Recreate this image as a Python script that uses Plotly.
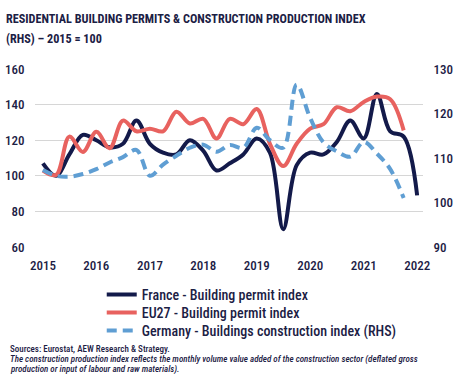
import pandas as pd
import plotly.graph_objects as go

quarters = pd.date_range("2015-01-01", periods=29, freq="QS")

france = [107, 100, 112, 123, 120, 116, 118, 131, 118, 113, 112, 120, 114, 103, 107, 112,
          121, 113, 70, 106, 113, 112, 119, 131, 121, 146, 125, 122, 89]
eu27 = [103, 100.5, 122, 113.4, 124.7, 115.5, 131, 125, 126.5, 125, 136, 129.4, 132, 121, 132, 129,
        137.5, 118, 105.5, 118, 126.5, 129, 138.5, 136.3, 141.5, 144.5, 143, 125.5]
germany = [107.3, 106, 105.8, 106.4, 107.5, 109, 110.2, 111.8, 106, 108.5, 110.5, 112.3, 113, 111.4,
           112.9, 112.3, 116.8, 114, 112.3, 126.5, 119, 113.5, 111.5, 110.3, 113.6, 111, 107.5, 101]

year_ticks = [2015, 2016, 2017, 2018, 2019, 2020, 2021, 2022]
left_ticks = [60, 80, 100, 120, 140, 160]
right_ticks = [90, 100, 110, 120, 130]

NAVY = "#131a4a"
RED = "#e8625f"
BLUE = "#5f9ed3"
TXT = "#1b2044"
FONT = "Roboto Condensed, DejaVu Sans Condensed, sans-serif"

fig = go.Figure()
fig.add_trace(go.Scatter(x=quarters[:len(france)], y=france, name="France - Building permit index",
                         mode="lines", legend="legend",
                         line=dict(color=NAVY, width=4, shape="spline", smoothing=1)))
fig.add_trace(go.Scatter(x=quarters[:len(eu27)], y=eu27, name="EU27 - Building permit index",
                         mode="lines", legend="legend2",
                         line=dict(color=RED, width=4, shape="spline", smoothing=1)))
fig.add_trace(go.Scatter(x=quarters[:len(germany)], y=germany, name="Germany - Buildings construction index (RHS)",
                         mode="lines", yaxis="y2", legend="legend3",
                         line=dict(color=BLUE, width=4, shape="spline", smoothing=1, dash="10px,6px")))

leg_common = dict(x=0.172, xanchor="left", yanchor="middle",
                  font=dict(size=14, color=TXT, family=FONT, weight=500),
                  itemwidth=30, bgcolor="rgba(0,0,0,0)")
plot_h = 390 - 69 - 143
tickfont = dict(size=13, color=TXT, family=FONT, weight=500)
fig.update_layout(
    width=462, height=390,
    margin=dict(l=35, r=39, t=69, b=143, autoexpand=False),
    paper_bgcolor="white", plot_bgcolor="white",
    font=dict(family=FONT, color=TXT, size=13),
    showlegend=True,
    legend=dict(y=-(295 - 247) / plot_h, **leg_common),
    legend2=dict(y=-(313 - 247) / plot_h, **leg_common),
    legend3=dict(y=-(331 - 247) / plot_h, **leg_common),
    xaxis=dict(type="date", range=["2014-11-08", "2022-02-10"],
               tickvals=[f"{y}-01-01" for y in year_ticks], ticktext=[str(y) for y in year_ticks],
               showgrid=False, zeroline=False, showline=False,
               ticks="outside", ticklen=6, tickcolor="rgba(0,0,0,0)", tickfont=tickfont),
    yaxis=dict(range=[60, 160], tickvals=left_ticks, showgrid=True, gridcolor="#d6d6d6", gridwidth=1,
               zeroline=False, showline=False, ticks="outside", ticklen=7, tickcolor="rgba(0,0,0,0)",
               tickfont=tickfont),
    yaxis2=dict(range=[90, 130], tickvals=right_ticks, overlaying="y", side="right", showgrid=False,
                zeroline=False, showline=False, ticks="outside", ticklen=7, tickcolor="rgba(0,0,0,0)",
                tickfont=tickfont),
)

title_lines = ["RESIDENTIAL BUILDING PERMITS & CONSTRUCTION PRODUCTION INDEX", "(RHS) – 2015 = 100"]
for i, t in enumerate(title_lines):
    fig.add_annotation(xref="paper", yref="paper", x=-0.079, y=1.0, xanchor="left", yanchor="middle",
                       yshift=50 - 20 * i, align="left", showarrow=False, text=f"<b>{t}</b>",
                       font=dict(size=12.2, color=TXT, family=FONT))

source_lines = ["Sources: Eurostat, AEW Research & Strategy.",
                "<i>The construction production index reflects the monthly volume value added of the construction sector (deflated gross</i>",
                "<i>production or input of labour and raw materials).</i>"]
for i, t in enumerate(source_lines):
    fig.add_annotation(xref="paper", yref="paper", x=-0.069, y=0.0, xanchor="left", yanchor="middle",
                       yshift=-102 - 10 * i, align="left", showarrow=False, text=t,
                       font=dict(size=9, color=TXT, family=FONT, weight=500))

fig.write_html("out.html", config={"displayModeBar": False},
               post_script="document.body.style.margin='0';")
